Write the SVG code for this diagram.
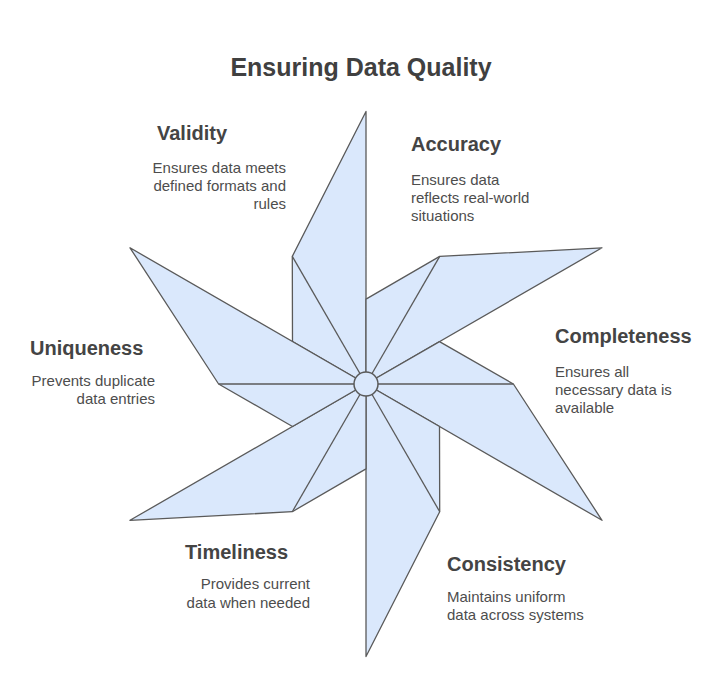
<svg xmlns="http://www.w3.org/2000/svg" width="721" height="698" viewBox="0 0 721 698">
<style>
.blade{fill:#dae8fc;stroke:#5a5a5a;stroke-width:1.3;stroke-linejoin:round}
.spoke{stroke:#5a5a5a;stroke-width:1.3;fill:none}
.title{font-family:"Liberation Sans",Arial,sans-serif;font-weight:bold;font-size:25px;fill:#404040}
.h{font-family:"Liberation Sans",Arial,sans-serif;font-weight:bold;font-size:20px;fill:#444444}
.d{font-family:"Liberation Sans",Arial,sans-serif;font-size:15px;fill:#4d4d4d}
.r{text-anchor:end}
</style>
<rect width="721" height="698" fill="#ffffff"/>
<text class="title" x="361" y="76" text-anchor="middle">Ensuring Data Quality</text>
<g id="pinwheel">
<g id="blade-top"><polygon class="blade" points="366,384 366,111.5 292.3,256.4 292.5,341.6"/><line class="spoke" x1="366" y1="384" x2="292.3" y2="256.4"/></g>
<g id="blade-upper-right"><polygon class="blade" points="366,384 602,247.8 439.7,256.4 366,299.1"/><line class="spoke" x1="366" y1="384" x2="439.7" y2="256.4"/></g>
<g id="blade-lower-right"><polygon class="blade" points="366,384 602,520.3 513.4,384 439.5,341.6"/><line class="spoke" x1="366" y1="384" x2="513.4" y2="384"/></g>
<g id="blade-bottom"><polygon class="blade" points="366,384 366,656.5 439.7,511.7 439.5,426.5"/><line class="spoke" x1="366" y1="384" x2="439.7" y2="511.7"/></g>
<g id="blade-lower-left"><polygon class="blade" points="366,384 130,520.3 292.3,511.7 366,468.9"/><line class="spoke" x1="366" y1="384" x2="292.3" y2="511.7"/></g>
<g id="blade-upper-left"><polygon class="blade" points="366,384 130,247.8 218.6,384 292.5,426.5"/><line class="spoke" x1="366" y1="384" x2="218.6" y2="384"/></g>
<circle id="hub" cx="366" cy="384" r="12" fill="#dae8fc" stroke="#5a5a5a" stroke-width="1.5"/>
</g>
<g id="validity">
<text class="h" x="157" y="140">Validity</text>
<text class="d r" x="286" y="173">Ensures data meets</text>
<text class="d r" x="286" y="191">defined formats and</text>
<text class="d r" x="286" y="209">rules</text>
</g>
<g id="accuracy">
<text class="h" x="411" y="151">Accuracy</text>
<text class="d" x="411" y="185">Ensures data</text>
<text class="d" x="411" y="203">reflects real-world</text>
<text class="d" x="411" y="221">situations</text>
</g>
<g id="completeness">
<text class="h" x="555" y="343">Completeness</text>
<text class="d" x="555" y="377">Ensures all</text>
<text class="d" x="555" y="395">necessary data is</text>
<text class="d" x="555" y="413">available</text>
</g>
<g id="uniqueness">
<text class="h" x="30" y="355">Uniqueness</text>
<text class="d r" x="155" y="386">Prevents duplicate</text>
<text class="d r" x="155" y="404">data entries</text>
</g>
<g id="timeliness">
<text class="h" x="185" y="559">Timeliness</text>
<text class="d r" x="310" y="589">Provides current</text>
<text class="d r" x="310" y="608">data when needed</text>
</g>
<g id="consistency">
<text class="h" x="447" y="571">Consistency</text>
<text class="d" x="447" y="602">Maintains uniform</text>
<text class="d" x="447" y="620">data across systems</text>
</g>
</svg>
